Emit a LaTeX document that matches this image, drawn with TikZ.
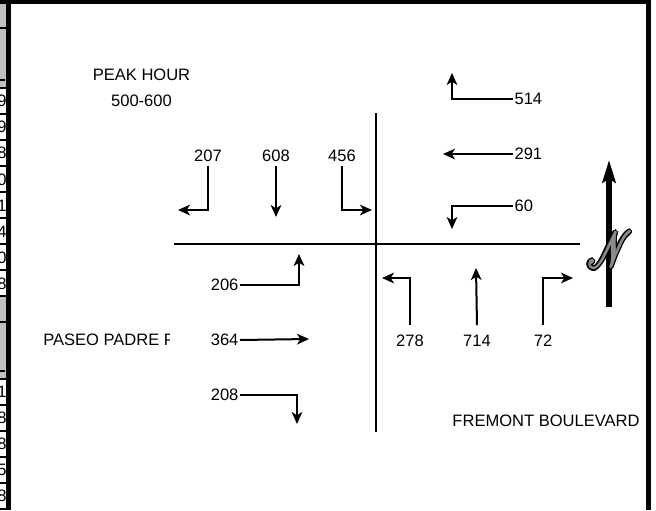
\documentclass[tikz,border=0pt]{standalone}
\usepackage{fontspec}
\setmainfont{Liberation Sans}
\usepackage{mathrsfs}
\usetikzlibrary{arrows.meta}
\definecolor{cellgray}{HTML}{C0C0C0}
\definecolor{ngray}{HTML}{8C8C8C}
\newcommand\bigN{\scalebox{1.05}[1.55]{\fontsize{38}{38}\selectfont$\mathscr{N}$}}
\newcommand\shN[3]{\rlap{\color{#3}\kern#1\raisebox{#2}{\bigN}}}
\newcommand\outlinedN{\leavevmode
  \shN{1.65pt}{0pt}{black}\shN{-1.65pt}{0pt}{black}\shN{0pt}{1.65pt}{black}\shN{0pt}{-1.65pt}{black}%
  \shN{1.2pt}{1.2pt}{black}\shN{-1.2pt}{1.2pt}{black}\shN{1.2pt}{-1.2pt}{black}\shN{-1.2pt}{-1.2pt}{black}%
  \shN{1.5pt}{0.6pt}{black}\shN{-1.5pt}{0.6pt}{black}\shN{1.5pt}{-0.6pt}{black}\shN{-1.5pt}{-0.6pt}{black}%
  \shN{0.6pt}{1.5pt}{black}\shN{-0.6pt}{1.5pt}{black}\shN{0.6pt}{-1.5pt}{black}\shN{-0.6pt}{-1.5pt}{black}%
  \shN{0.65pt}{0pt}{ngray}\shN{-0.65pt}{0pt}{ngray}\shN{0pt}{0.65pt}{ngray}\shN{0pt}{-0.65pt}{ngray}%
  \textcolor{ngray}{\bigN}}
\begin{document}
\begin{tikzpicture}[x=0.75pt,y=-0.75pt,
  every node/.style={font=\fontsize{12.4}{14}\selectfont, inner xsep=1pt, inner ysep=3pt},
  arr/.style={line width=1.5pt,-{Stealth[length=9pt,width=8pt,inset=2.5pt]}},
  road/.style={line width=1.5pt},
  framel/.style={line width=3.2pt},
  cellline/.style={line width=1.1pt}]
\useasboundingbox (0,0) rectangle (656,510);

% cut-off spreadsheet strip at left
\begin{scope}
  \clip (0,0) rectangle (8,510);
  \fill[cellgray] (0,3) rectangle (8,87);
  \fill[cellgray] (0,297) rectangle (8,378);
  \foreach \y in {28,88,114,140,166,192,218,244,270,296,322,379,405,431,457,483,509}
    \draw[cellline] (0,\y) -- (8,\y);
  \draw[line width=1pt] (0,80) -- (5,80);
  \draw[line width=1pt] (0,371) -- (5,371);
  \foreach \y/\d [count=\i] in {101/9,127/9,153/8,180/0,206/1,232/4,258/0,284/8,392/1,418/8,444/8,470/5,496/8}
    \node[anchor=east, inner sep=0pt] (d\i) at (6.8,\y) {\d};
\end{scope}

% frame
\draw[framel] (0,1.8) -- (651,1.8);
\draw[framel] (8.5,0) -- (8.5,510);
\draw[line width=3.5pt] (648.5,0) -- (648.5,510);

% roads
\coordinate (rW) at (174,244);
\coordinate (rE) at (580,244);
\coordinate (rN) at (376,113);
\coordinate (rS) at (376,432);
\draw[road] (rW) -- (rE);
\draw[road] (rN) -- (rS);

% titles
\node (peak) at (141.5,75) {PEAK HOUR};
\node (hour) at (141.5,101) {500-600};
\begin{scope}
  \clip (0,300) rectangle (169.5,380);
  \node[anchor=west, inner xsep=0pt] (paseo) at (43,340) {PASEO PADRE P};
\end{scope}
\node (fremont) at (546,421) {FREMONT BOULEVARD};

% southbound (north approach)
\node (l207) at (208,156) {207};
\node (l608) at (276,156) {608};
\node (l456) at (342,156) {456};
\coordinate (t207) at (178,210);
\coordinate (t608) at (276,217);
\coordinate (t456) at (372,210);
\draw[arr] (l207.south) |- (t207);
\draw[arr] (l608.south) -- (t608);
\draw[arr] (l456.south) |- (t456);

% westbound (east approach)
\node[anchor=west] (l514) at (513,99) {514};
\node[anchor=west] (l291) at (513,154) {291};
\node[anchor=west] (l60) at (513,206) {60};
\coordinate (t514) at (452,73);
\coordinate (t291) at (443,154);
\coordinate (t60) at (452,229);
\draw[arr] (l514.west) -| (t514);
\draw[arr] (l291.west) -- (t291);
\draw[arr] (l60.west) -| (t60);

% northbound (south approach)
\node (l278) at (410,341) {278};
\node (l714) at (477,341) {714};
\node (l72) at (543,341) {72};
\coordinate (t278) at (382,278);
\coordinate (t714) at (476,268);
\coordinate (t72) at (573,278);
\draw[arr] ([yshift=4.5pt]l278.north) |- (t278);
\draw[arr] ([yshift=4.5pt]l714.north) -- (t714);
\draw[arr] ([yshift=4.5pt]l72.north) |- (t72);

% eastbound (west approach)
\node[anchor=east] (l206) at (240,285) {206};
\node[anchor=east] (l364) at (240,340) {364};
\node[anchor=east] (l208) at (240,395) {208};
\coordinate (t206) at (299,254);
\coordinate (t364) at (309,339);
\coordinate (t208) at (297,424);
\draw[arr] (l206.east) -| (t206);
\draw[arr] (l364.east) -- (t364);
\draw[arr] (l208.east) -| (t208);

% north arrow
\coordinate (nS) at (609,307);
\coordinate (nT) at (609,160);
\draw[line width=3.8pt,-{Stealth[length=17pt,width=10pt,inset=3pt]}] (nS) -- (nT);
\node[inner sep=0pt] (nN) at (610,250) {\outlinedN};
\end{tikzpicture}
\end{document}
